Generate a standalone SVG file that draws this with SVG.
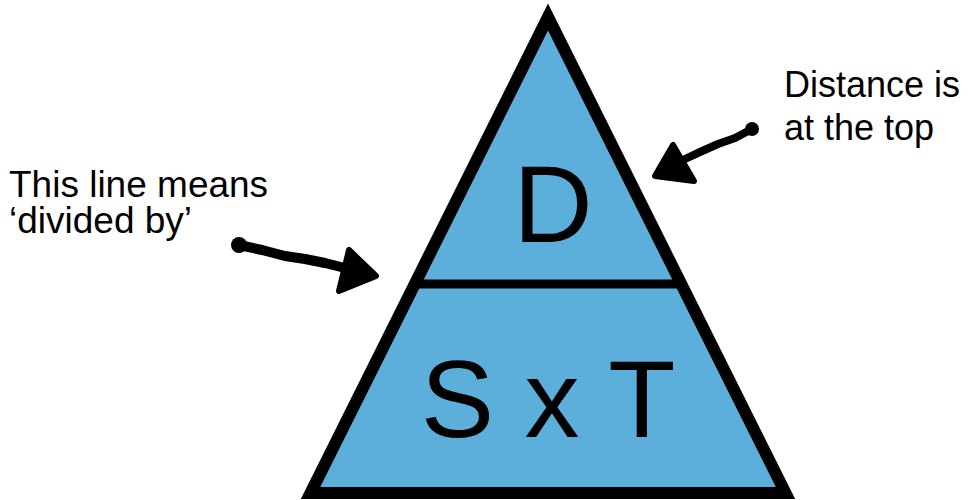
<svg xmlns="http://www.w3.org/2000/svg" width="971" height="500" viewBox="0 0 971 500">
<style>
.lbl{font-family:"Liberation Sans",Arial,sans-serif;fill:#000}
.big{font-family:"Liberation Sans",Arial,sans-serif;font-size:110px;fill:#000;text-anchor:middle}
.shaft{fill:none;stroke:#000;stroke-linecap:round;stroke-linejoin:round}
.head{fill:#000;stroke:#000;stroke-width:6;stroke-linejoin:round}
</style>
<rect width="971" height="500" fill="#fff"/>
<g id="triangle">
<polygon points="548,17 310.5,493 785.5,493" fill="#5BAFDA" stroke="#000" stroke-width="12" stroke-linejoin="miter" stroke-miterlimit="10"/>
<line x1="413" y1="284" x2="683" y2="284" stroke="#000" stroke-width="9"/>
</g>
<g id="top-D"><text class="big" x="553" y="242">D</text></g>
<g id="bottom-SxT"><text class="big" x="548" y="437" xml:space="preserve">S x T</text></g>
<g id="label-left">
<text class="lbl" font-size="37" x="9" y="197">This line means</text>
<text class="lbl" font-size="37" x="9" y="233">‘divided by’</text>
</g>
<g id="label-right">
<text class="lbl" font-size="36" x="784" y="97">Distance is</text>
<text class="lbl" font-size="36" x="784" y="140">at the top</text>
</g>
<g id="connectors">
<circle cx="239" cy="245" r="8"/>
<path class="shaft" stroke-width="10" d="M239,245 L262,250 L285,256 L305,259 L325,263 L345,268"/>
<polygon class="head" points="349,250 376,276 339,291"/>
<circle cx="752" cy="129" r="7"/>
<path class="shaft" stroke-width="8" d="M752,129 L735,138 L718,144 L700,152 L683,160"/>
<polygon class="head" points="673,145 655,176 694,181"/>
</g>
</svg>
